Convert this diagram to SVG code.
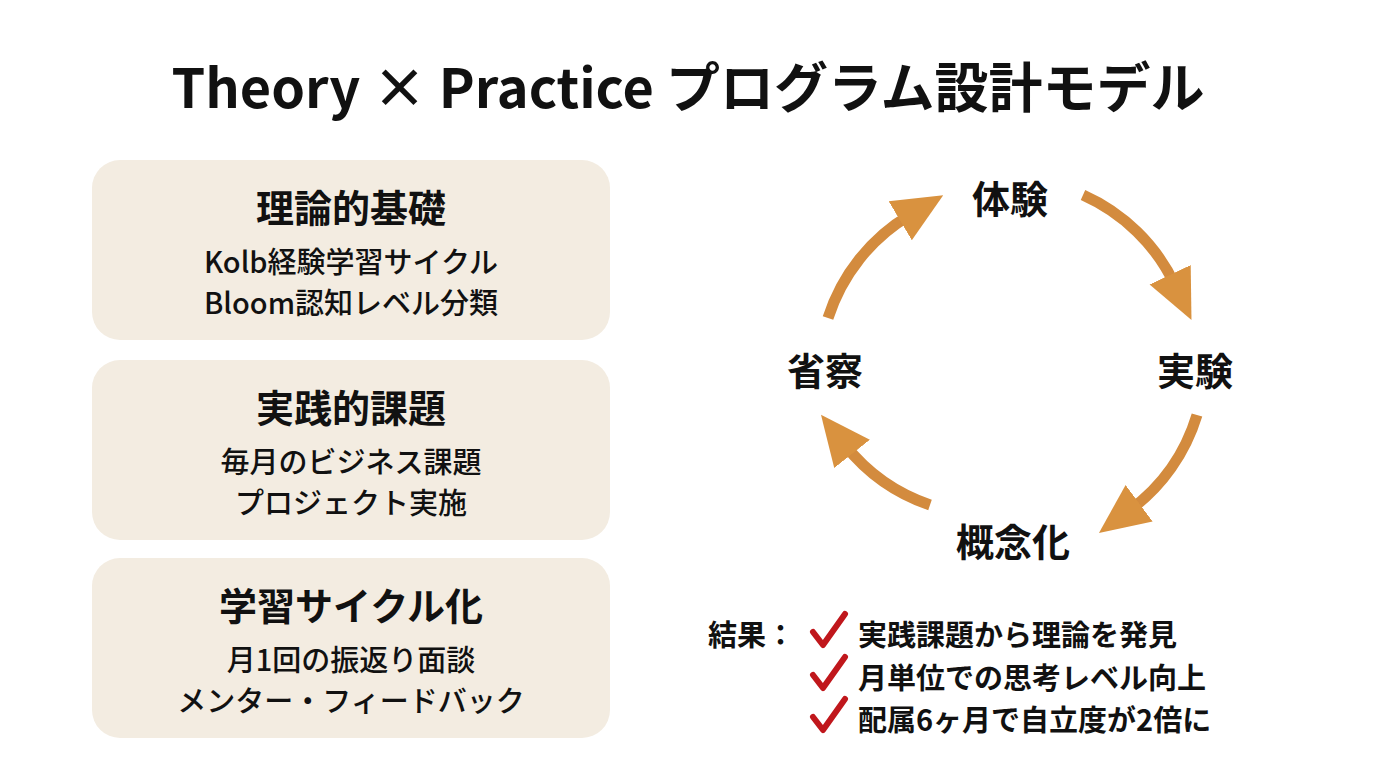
<svg xmlns="http://www.w3.org/2000/svg" width="1376" height="768" viewBox="0 0 1376 768">
<style>
text{font-family:"Noto Sans CJK JP","Noto Sans",sans-serif;fill:#111;text-anchor:middle}
.box{fill:#f3ece1}
.h{font-size:38px;font-weight:700}
.b{font-size:29px;font-weight:500}
.c{font-size:38px;font-weight:700}
.r{font-size:29px;font-weight:700;text-anchor:start}
.arc{fill:none;stroke:#d38b3e;stroke-width:11;marker-end:url(#ah)}
.chk{fill:none;stroke:#c0171c;stroke-width:6;stroke-linecap:round;stroke-linejoin:round}
</style>
<defs><marker id="ah" markerUnits="userSpaceOnUse" markerWidth="50" markerHeight="50" refX="10" refY="20" orient="auto" viewBox="0 0 44 40"><path d="M0,0 L44,20 L0,40 Z" fill="#d9923f"/></marker></defs>
<rect width="1376" height="768" fill="#fff"/>
<text x="688" y="108" style="font-size:54px;font-weight:700">Theory × Practice プログラム設計モデル</text>
<g id="n1"><rect class="box" x="92" y="160" width="518" height="180" rx="28"/><text class="h" x="351" y="222">理論的基礎</text><text class="b" x="351" y="273">Kolb経験学習サイクル</text><text class="b" x="351" y="314">Bloom認知レベル分類</text></g>
<g id="n2"><rect class="box" x="92" y="360" width="518" height="180" rx="28"/><text class="h" x="351" y="422">実践的課題</text><text class="b" x="351" y="473">毎月のビジネス課題</text><text class="b" x="351" y="514">プロジェクト実施</text></g>
<g id="n3"><rect class="box" x="92" y="558" width="518" height="180" rx="28"/><text class="h" x="351" y="620">学習サイクル化</text><text class="b" x="351" y="671">月1回の振返り面談</text><text class="b" x="351" y="712">メンター・フィードバック</text></g>
<g id="c1"><text class="c" x="1010" y="213">体験</text></g>
<g id="c2"><text class="c" x="1195" y="385">実験</text></g>
<g id="c3"><text class="c" x="1013" y="556">概念化</text></g>
<g id="c4"><text class="c" x="825" y="385">省察</text></g>
<g id="connectors">
<path class="arc" d="M1083,195 A185,185 0 0 1 1175,285"/>
<path class="arc" d="M1197,415 A185,185 0 0 1 1130,510"/>
<path class="arc" d="M930,505 A185,185 0 0 1 845,445"/>
<path class="arc" d="M828,318 A185,185 0 0 1 910,215"/>
</g>
<g id="result">
<text class="r" x="708" y="646">結果：</text>
<path class="chk" d="M813,632 L823,645 L845,614"/>
<path class="chk" d="M813,675 L823,688 L845,657"/>
<path class="chk" d="M813,717 L823,730 L845,699"/>
<text class="r" x="858" y="646">実践課題から理論を発見</text>
<text class="r" x="858" y="689">月単位での思考レベル向上</text>
<text class="r" x="858" y="731">配属6ヶ月で自立度が2倍に</text>
</g>
</svg>
